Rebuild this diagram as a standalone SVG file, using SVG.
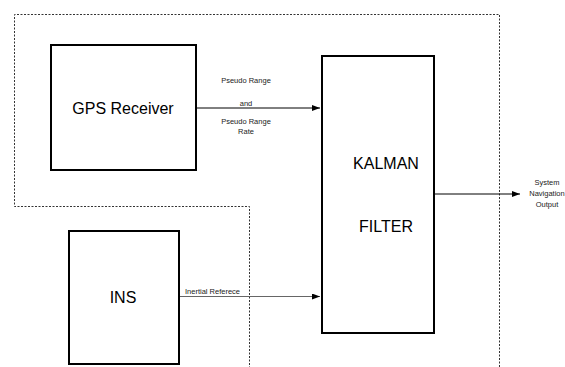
<svg xmlns="http://www.w3.org/2000/svg" width="565" height="367" viewBox="0 0 565 367">
<style>
.box{fill:#fff;stroke:#000;stroke-width:2}
.dash{fill:none;stroke:#333;stroke-width:1;stroke-dasharray:2,1.5}
.t{font-family:"Liberation Sans",Arial,sans-serif;fill:#000;text-anchor:middle}
.big{font-size:16px}
.sm{font-size:7.5px;fill:#222}
.ln{stroke:#000;stroke-width:1;fill:none;marker-end:url(#ah)}
</style>
<defs>
<marker id="ah" viewBox="0 0 8 6" refX="8" refY="3" markerWidth="8" markerHeight="6" markerUnits="userSpaceOnUse" orient="auto">
<path d="M0,0 L8,3 L0,6 z" fill="#000"/>
</marker>
</defs>
<rect width="565" height="367" fill="#fff"/>
<path class="dash" d="M499.5,367 L499.5,14.5 L14.5,14.5 L14.5,206.5 L249.5,206.5 L249.5,367"/>
<g id="connectors">
<line class="ln" x1="196" y1="108" x2="320" y2="108"/>
<line class="ln" x1="179" y1="296.5" x2="320" y2="296.5" style="stroke:#666"/>
<line class="ln" x1="434" y1="194" x2="520" y2="194"/>
</g>
<g id="gps">
<rect class="box" x="51" y="45" width="145" height="125"/>
<text class="t big" x="123" y="114">GPS Receiver</text>
</g>
<g id="ins">
<rect class="box" x="69" y="231" width="110" height="133"/>
<text class="t big" x="123" y="303">INS</text>
</g>
<g id="kalman">
<rect class="box" x="322" y="56" width="112" height="277"/>
<text class="t big" x="386" y="169">KALMAN</text>
<text class="t big" x="386" y="232">FILTER</text>
</g>
<g id="labels">
<text class="t sm" x="246" y="83">Pseudo Range</text>
<text class="t sm" x="246" y="106">and</text>
<text class="t sm" x="246" y="124">Pseudo Range</text>
<text class="t sm" x="246" y="134">Rate</text>
<text class="t sm" x="185" y="294" style="text-anchor:start">Inertial Referece</text>
<text class="t sm" x="547" y="185">System</text>
<text class="t sm" x="547" y="196">Navigation</text>
<text class="t sm" x="547" y="207">Output</text>
</g>
</svg>
